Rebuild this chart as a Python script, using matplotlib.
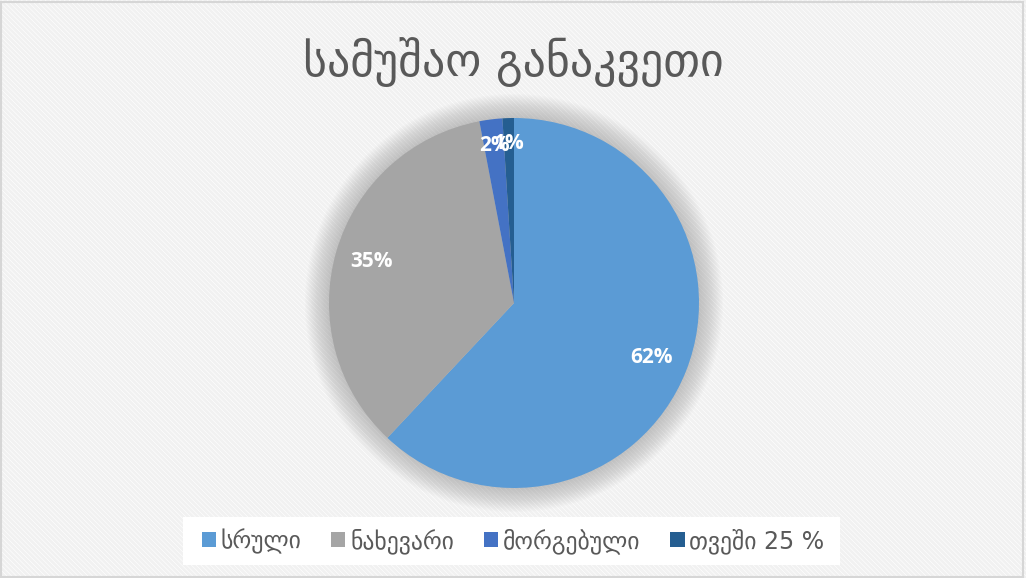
import matplotlib
matplotlib.use("Agg")
import matplotlib.pyplot as plt
from matplotlib.patches import Rectangle, Circle
import numpy as np

title = "სამუშაო განაკვეთი"
categories = ["სრული", "ნახევარი", "მორგებული", "თვეში 25 %"]
shares = [62, 35, 2, 1]
colors = ["#5B9BD5", "#A5A5A5", "#4472C4", "#255E91"]

plt.rcParams["hatch.linewidth"] = 2.0

fig = plt.figure(figsize=(10.26, 5.78), dpi=100)
W, H = 1026, 578

# striped background and thin frame
fig.patches.append(Rectangle((0, 0), 1, 1, transform=fig.transFigure,
                             facecolor="white", edgecolor="#f1f1f1",
                             hatch="\\" * 7, linewidth=0, zorder=-10))
fig.patches.append(Rectangle((0.001, 0.002), 0.996, 0.995, transform=fig.transFigure,
                             facecolor="none", edgecolor="#d6d6d6",
                             linewidth=1.5, zorder=-9))

fig.text(0.5, 0.893, title, ha="center", va="center",
         fontsize=33, color="#595959", family="DejaVu Sans")

# pie axes: radius 1 = 185 px
R = 185
half = 215
ax = fig.add_axes([(514 - half) / W, (H - 303 - half) / H,
                   2 * half / W, 2 * half / H])

# soft shadow around the pie
for k in range(20):
    ax.add_patch(Circle((0, 0), 1 + 0.0065 * (k + 1), facecolor="#808080",
                        edgecolor="none", alpha=0.022, zorder=0))

wedges, texts, autotexts = ax.pie(
    shares, colors=colors, startangle=90, counterclock=False, radius=1,
    autopct="%1.0f%%", pctdistance=0.8,
    wedgeprops=dict(linewidth=0),
    textprops=dict(color="white", fontsize=15, fontweight="bold", family="Open Sans"))
ax.set_xlim(-half / R, half / R)
ax.set_ylim(-half / R, half / R)
ax.set_aspect("equal")
ax.axis("off")
for w in wedges:
    w.set_zorder(2)
for t in autotexts:
    t.set_zorder(3)
# the two thin slices sit a bit further out
for w, t, v in zip(wedges, autotexts, shares):
    if v < 5:
        mid = np.deg2rad((w.theta1 + w.theta2) / 2)
        t.set_position((0.86 * np.cos(mid), 0.86 * np.sin(mid)))

# legend on a white strip
fig.patches.append(Rectangle((183 / W, 1 - 565 / H), 657 / W, 48 / H,
                             transform=fig.transFigure, facecolor="white",
                             edgecolor="none", zorder=-5))
leg = fig.legend(wedges, categories, loc="center", bbox_to_anchor=(0.5, 1 - 541 / H),
                 ncol=4, frameon=False,
                 handlelength=0.6, handleheight=0.6, handletextpad=0.2,
                 columnspacing=1.27, labelcolor="#595959",
                 prop=dict(family="DejaVu Sans", size=17))

fig.savefig("out.png", dpi=100)
